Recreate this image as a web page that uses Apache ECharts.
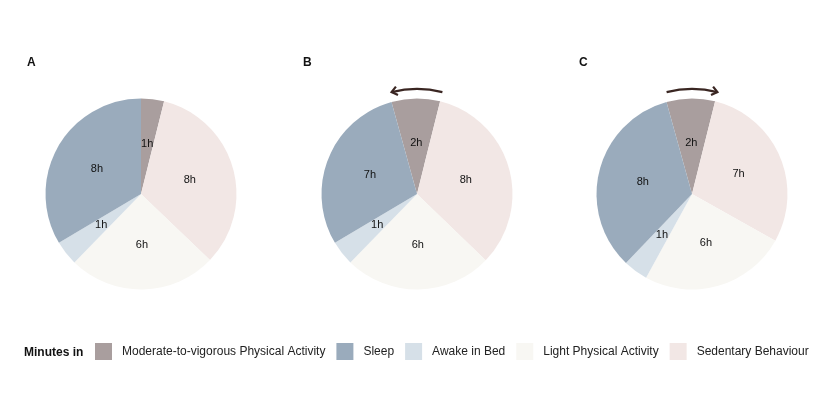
<!DOCTYPE html>
<html lang="en">
<head>
<meta charset="UTF-8">
<title>24-hour time use</title>
<script src="https://cdn.jsdelivr.net/npm/echarts@6/dist/echarts.min.js"></script>
<style>
  html, body { margin: 0; padding: 0; background: #fff; }
  #chart { width: 830px; height: 417px; }
</style>
</head>
<body>
<div id="chart"></div>
<script>
// slices in clockwise order, starting at the MVPA wedge
const activities = ['Moderate-to-vigorous Physical Activity', 'Sedentary Behaviour', 'Light Physical Activity', 'Awake in Bed', 'Sleep'];
const legendOrder = ['Moderate-to-vigorous Physical Activity', 'Sleep', 'Awake in Bed', 'Light Physical Activity', 'Sedentary Behaviour'];
const colours = ['#a99e9e', '#f2e7e5', '#f8f7f3', '#d6e0e8', '#9aabbc'];

const panels = ['A', 'B', 'C'];
// minutes per day
const minutesA = [56, 479, 362, 60, 483];
const minutesB = [118, 480, 361, 60, 421];
const minutesC = [118, 421, 358, 60, 483];
const allMinutes = [minutesA, minutesB, minutesC];

const FONT = "'Liberation Sans', Arial, sans-serif";
const centresX = [141, 417, 692];
const centreY = 194;
const R = 95.5;

const chart = echarts.init(document.getElementById('chart'), null, { renderer: 'canvas' });

// keep the MVPA / sedentary boundary where it sits in panel A
function startAngleFor(mins) {
  return 90 + (mins[0] - minutesA[0]) / 1440 * 360;
}

const series = allMinutes.map((mins, i) => ({
  type: 'pie',
  name: panels[i],
  center: [centresX[i], centreY],
  radius: R,
  startAngle: startAngleFor(mins),
  clockwise: true,
  animation: false,
  silent: true,
  itemStyle: { borderWidth: 0 },
  label: {
    show: true,
    position: 'inside',
    formatter: p => Math.round(p.value / 60) + 'h',
    color: '#111',
    fontSize: 11,
    fontFamily: FONT
  },
  labelLine: { show: false },
  data: activities.map((a, k) => ({ name: a, value: mins[k], itemStyle: { color: colours[k] } }))
}));

// curved arrow above the MVPA wedge; dir -1 = anticlockwise, +1 = clockwise
function arrow(cx, dir) {
  const r = 105, half = 14 * Math.PI / 180;
  const top = -Math.PI / 2;
  const tipPhi = dir * half;                // clockwise from 12 o'clock
  const tip = [cx + r * Math.sin(tipPhi), centreY - r * Math.cos(tipPhi)];
  const d = [dir * Math.cos(tipPhi), dir * Math.sin(tipPhi)];
  const back = [-d[0], -d[1]];
  const leg = 7, a = 38 * Math.PI / 180;
  const rot = (v, t) => [v[0] * Math.cos(t) - v[1] * Math.sin(t), v[0] * Math.sin(t) + v[1] * Math.cos(t)];
  const l1 = rot(back, a), l2 = rot(back, -a);
  const stroke = { stroke: '#3a2622', lineWidth: 2.2, fill: null };
  return [
    { type: 'arc', silent: true, shape: { cx: cx, cy: centreY, r: r, startAngle: top - half, endAngle: top + half, clockwise: true }, style: stroke },
    { type: 'polyline', silent: true, shape: { points: [
        [tip[0] + l1[0] * leg, tip[1] + l1[1] * leg], tip, [tip[0] + l2[0] * leg, tip[1] + l2[1] * leg]
      ] }, style: Object.assign({}, stroke, { lineJoin: 'miter' }) }
  ];
}

const letters = panels.map((p, i) => ({
  type: 'text', left: [27, 303, 579][i], top: 56.5,
  style: { text: p, font: 'bold 12px ' + FONT, fill: '#111' }
}));

chart.setOption({
  backgroundColor: '#fff',
  legend: {
    data: legendOrder,
    left: 95,
    top: 343,
    padding: 0,
    icon: 'rect',
    itemWidth: 17,
    itemHeight: 17,
    itemGap: 11,
    selectedMode: false,
    textStyle: { fontSize: 12, fontFamily: FONT, color: '#222', padding: [0, 0, 0, 5] }
  },
  graphic: [
    ...letters,
    { type: 'text', left: 24, top: 347, style: { text: 'Minutes in', font: 'bold 12px ' + FONT, fill: '#111' } },
    ...arrow(centresX[1], -1),
    ...arrow(centresX[2], 1)
  ],
  series: series
});
</script>
</body>
</html>
